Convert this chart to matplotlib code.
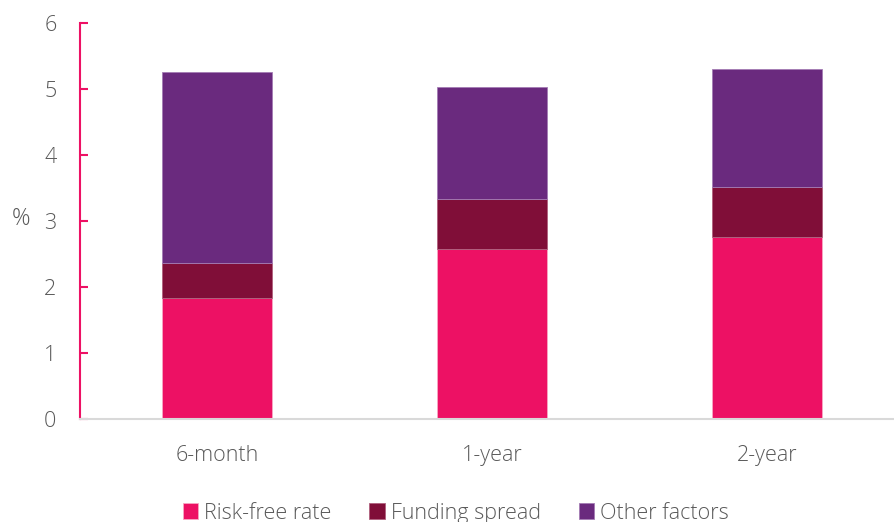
import numpy as np
import matplotlib
matplotlib.use("Agg")
import matplotlib.pyplot as plt

# stacked contributions, in percentage points
tenors = ["6-month", "1-year", "2-year"]
risk_free = [1.83, 2.58, 2.76]
funding_spread = [0.53, 0.75, 0.75]
other_factors = [2.90, 1.70, 1.79]

pink = "#ED1164"
maroon = "#800E38"
purple = "#6A2A7E"
grey_text = "#595959"

plt.rcParams["font.family"] = ["Open Sans", "DejaVu Sans"]
plt.rcParams["font.weight"] = "light"
plt.rcParams["axes.labelweight"] = "light"

fig = plt.figure(figsize=(8.94, 5.22), dpi=100)
ax = fig.add_axes([0.0895, 0.1973, 0.9105, 0.7586])

x = np.arange(len(tenors))
width = 0.4
rf = np.array(risk_free)
fs = np.array(funding_spread)
of = np.array(other_factors)

ax.bar(x, rf, width, color=pink, edgecolor="#f7a8c4", linewidth=0.6, label="Risk-free rate")
ax.bar(x, fs, width, bottom=rf, color=maroon, edgecolor="#b0607e", linewidth=0.6, label="Funding spread")
ax.bar(x, of, width, bottom=rf + fs, color=purple, edgecolor="#a47cb4", linewidth=0.6, label="Other factors")

ax.set_xlim(-0.498, 2.46)
ax.set_ylim(0, 6)
ax.set_yticks(range(0, 7))
ax.set_xticks(x)
ax.set_xticklabels(tenors)

for side in ["top", "right"]:
    ax.spines[side].set_visible(False)
ax.spines["left"].set_color(pink)
ax.spines["left"].set_linewidth(1.5)
ax.spines["bottom"].set_color("#d9d9d9")
ax.spines["bottom"].set_linewidth(1.5)

fsz = 15.5
ax.tick_params(axis="y", direction="in", length=6, width=1.5, color=pink,
               labelsize=fsz, labelcolor=grey_text, pad=17)
ax.tick_params(axis="x", length=0, labelsize=fsz, labelcolor=grey_text, pad=19)

ax.set_ylabel("%", rotation=0, fontsize=fsz + 1, fontweight="light", color=grey_text)
ax.yaxis.set_label_coords(-0.073, 0.475)

fig.legend(loc="lower center", bbox_to_anchor=(0.51, -0.04), ncol=3, frameon=False,
           fontsize=fsz, labelcolor=grey_text, handlelength=0.7, handleheight=0.7,
           handletextpad=0.3, columnspacing=1.75)

fig.savefig("out.png", dpi=100)
